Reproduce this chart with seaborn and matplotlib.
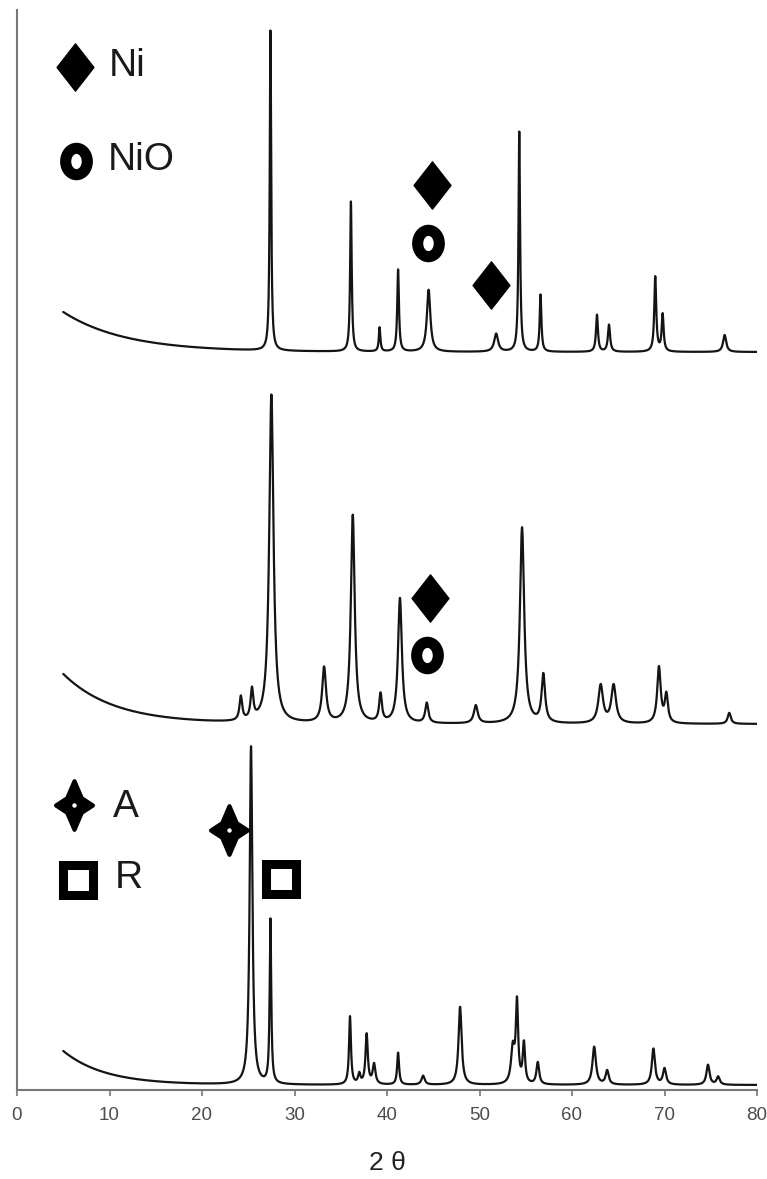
import numpy as np
import pandas as pd
import matplotlib
matplotlib.use("Agg")
from matplotlib import pyplot as plt
from matplotlib.path import Path
from matplotlib.transforms import Affine2D
import seaborn as sns

# XRD patterns: peak position (2 theta), height, width (FWHM)
# heights are in the figure's own vertical units (no intensity scale is shown)

# top pattern (Ni / NiO loaded)
top_pos = [27.4, 36.1, 39.2, 41.2, 44.5, 51.8, 54.3, 56.6, 62.7, 64.0, 69.0, 69.8, 76.5]
top_h = [320, 150, 24, 82, 62, 18, 220, 57, 37, 27, 75, 37, 17]
top_w = [0.18, 0.2, 0.2, 0.22, 0.45, 0.5, 0.2, 0.22, 0.25, 0.28, 0.25, 0.25, 0.4]
top_base = 738
top_bg = [40, 6.7]   # extra rise at 2theta = 5, decay length

# middle pattern
mid_pos = [24.2, 25.4, 27.5, 33.2, 36.3, 39.3, 41.4, 44.3, 49.6, 54.6, 56.9, 63.1, 64.5, 69.4, 70.2, 77.0]
mid_h = [24, 30, 328, 55, 208, 28, 125, 20, 18, 196, 48, 38, 38, 56, 28, 11]
mid_w = [0.35, 0.35, 0.55, 0.5, 0.5, 0.35, 0.5, 0.4, 0.5, 0.55, 0.45, 0.6, 0.6, 0.45, 0.4, 0.4]
mid_base = 366
mid_bg = [50, 5.5]

# bottom pattern (anatase + rutile support)
bot_pos = [25.3, 27.4, 36.0, 37.0, 37.8, 38.6, 41.2, 43.9, 47.9, 53.6, 54.05, 54.8, 56.3, 62.4, 63.8, 68.8, 70.0, 74.7, 75.8]
bot_h = [338, 164, 68, 10, 50, 20, 32, 9, 78, 35, 80, 40, 22, 38, 14, 36, 16, 20, 8]
bot_w = [0.35, 0.2, 0.25, 0.3, 0.3, 0.35, 0.25, 0.4, 0.4, 0.45, 0.3, 0.3, 0.35, 0.45, 0.4, 0.4, 0.4, 0.4, 0.4]
bot_base = 5
bot_bg = [34, 4.5]

# phase markers placed on the patterns
mark_x = [44.9, 44.4, 51.2, 44.6, 44.3, 22.9, 28.5]
mark_y = [905, 847, 805, 492, 435, 260, 211]
mark_kind = ["Ni", "NiO", "Ni", "Ni", "NiO", "A", "R"]

# key in the corners
key_kind = ["Ni", "NiO", "A", "R"]
key_x = [6.3, 6.4, 6.2, 6.6]
key_y = [1023, 929, 285, 210]
key_text_x = [9.9, 9.8, 10.4, 10.6]
key_text_y = [1024, 930, 283, 212]

x_ticks = [0, 10, 20, 30, 40, 50, 60, 70, 80]
two_theta = np.arange(5, 80.001, 0.02)


def pattern(pos, h, w, base, bg):
    y = np.full_like(two_theta, float(base))
    y += bg[0] * np.exp(-(two_theta - 5) / bg[1])
    for c, a, fw in zip(pos, h, w):
        y += a / (1 + ((two_theta - c) / (fw / 2)) ** 2)
    return y


frames = []
for name, p, h, w, b, bg in [("top", top_pos, top_h, top_w, top_base, top_bg),
                             ("mid", mid_pos, mid_h, mid_w, mid_base, mid_bg),
                             ("bot", bot_pos, bot_h, bot_w, bot_base, bot_bg)]:
    frames.append(pd.DataFrame({"two_theta": two_theta,
                                "counts": pattern(p, h, w, b, bg),
                                "sample": name}))
df = pd.concat(frames, ignore_index=True)

# marker shapes
diamond = Path([(0, 1), (0.78, 0), (0, -1), (-0.78, 0), (0, 1)],
               [Path.MOVETO, Path.LINETO, Path.LINETO, Path.LINETO, Path.CLOSEPOLY])
ring = Path.unit_circle().transformed(Affine2D().scale(0.82, 1.0))
star = Path([(0, 1), (0.3, 0.3), (0.76, 0), (0.3, -0.3), (0, -1),
             (-0.3, -0.3), (-0.76, 0), (-0.3, 0.3), (0, 1)],
            [Path.MOVETO] + [Path.LINETO] * 7 + [Path.CLOSEPOLY])

style = {
    "Ni": dict(marker=diamond, ms=34, mfc="black", mec="black", mew=1),
    "NiO": dict(marker=ring, ms=19, mfc="white", mec="black", mew=8),
    "A": dict(marker=star, ms=35, mfc="black", mec="black", mew=3),
    "R": dict(marker="s", ms=21.5, mfc="white", mec="black", mew=6.5),
}

sns.set_theme(style="ticks")
plt.rcParams["font.family"] = ["Liberation Sans", "DejaVu Sans"]

fig = plt.figure(figsize=(7.67, 11.79), dpi=100)
ax = fig.add_axes([17 / 767, 89 / 1179, 740 / 767, 1080 / 1179])

sns.lineplot(data=df, x="two_theta", y="counts", units="sample", estimator=None,
             sort=False, color="#141414", lw=1.6, ax=ax, legend=False)


def put_marker(x, y, kind):
    ax.plot([x], [y], ls="none", zorder=5, **style[kind])
    if kind == "A":
        ax.plot([x], [y], ls="none", marker="o", ms=2.2, mfc="white", mec="white", zorder=6)


for x, y, k in zip(mark_x, mark_y, mark_kind):
    put_marker(x, y, k)
for x, y, k, tx, ty in zip(key_x, key_y, key_kind, key_text_x, key_text_y):
    put_marker(x, y, k)
    ax.text(tx, ty, k, fontsize=28, color="#1a1a1a", va="center", ha="left")

ax.set_xlim(0, 80)
ax.set_ylim(0, 1080)
ax.set_xticks(x_ticks)
ax.set_xticklabels([str(t) for t in x_ticks])
ax.set_yticks([])
ax.tick_params(axis="x", length=4, width=1.2, color="#777777", labelsize=13.5,
               labelcolor="#4d4d4d", pad=8)
ax.set_xlabel("2 θ", fontsize=19, color="#222222", labelpad=20)
ax.set_ylabel("")
for s in ["top", "right"]:
    ax.spines[s].set_visible(False)
for s in ["left", "bottom"]:
    ax.spines[s].set_color("#777777")
    ax.spines[s].set_linewidth(1.5)

fig.savefig("out.png", dpi=100)
